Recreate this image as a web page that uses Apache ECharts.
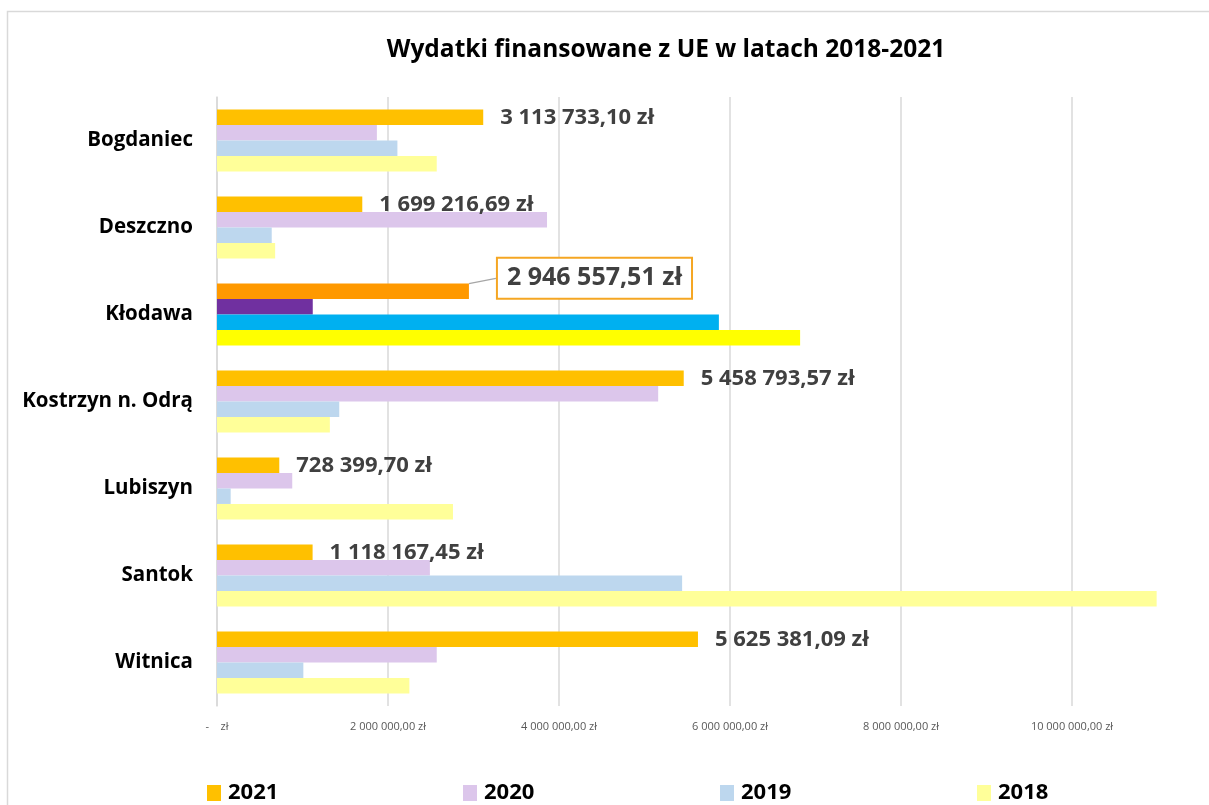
<!DOCTYPE html>
<html><head><meta charset="utf-8">
<script src="https://cdn.jsdelivr.net/npm/echarts@6/dist/echarts.min.js"></script>
<style>html,body{margin:0;padding:0;background:#fff}#c{width:1209px;height:805px}</style>
</head><body><div id="c"></div>
<script>
const categories = ['Bogdaniec','Deszczno','Kłodawa','Kostrzyn n. Odrą','Lubiszyn','Santok','Witnica'];
const years = ['2021','2020','2019','2018'];
const v2021 = [3113733.10, 1699216.69, 2946557.51, 5458793.57, 728399.70, 1118167.45, 5625381.09];
const v2020 = [1870000, 3860000, 1120000, 5160000, 880000, 2490000, 2570000];
const v2019 = [2110000, 640000, 5870000, 1430000, 160000, 5440000, 1010000];
const v2018 = [2570000, 680000, 6820000, 1320000, 2760000, 10990000, 2250000];
const highlightIndex = 2;
const baseColors = ['#FFC000','#DCC6EB','#BDD7EE','#FFFF99'];
const highlightColors = ['#FF9900','#7030A0','#00B0F0','#FFFF00'];
const FONT = 'Open Sans';

function pl(v, dec){
  const s = v.toFixed(dec);
  const parts = s.split('.');
  const int = parts[0].replace(/\B(?=(\d{3})+(?!\d))/g, ' ');
  return dec ? int + ',' + parts[1] : int;
}
const allValues = [v2021, v2020, v2019, v2018];

const series = allValues.map((vals, si) => ({
  name: years[si],
  type: 'bar',
  barGap: '0%',
  barCategoryGap: '29%',
  itemStyle: { color: baseColors[si] },
  data: vals.map((v, i) => {
    const d = { value: v };
    if (i === highlightIndex) {
      d.itemStyle = { color: highlightColors[si] };
      if (si === 0) {
        d.label = {
          show: true, fontSize: 25, color: '#404040', fontWeight: 'bold', fontFamily: FONT,
          borderColor: '#F5A623', borderWidth: 2, padding: [8, 9, 6, 9], backgroundColor: '#fff'
        };
        d.labelLine = { show: true, lineStyle: { color: '#A6A6A6', width: 1.2 } };
      }
    }
    return d;
  }),
  label: si === 0 ? {
    show: true, position: 'right', distance: 17, fontFamily: FONT, fontWeight: 'bold',
    fontSize: 22, color: '#404040',
    formatter: p => pl(p.value, 2) + ' zł'
  } : { show: false },
  labelLine: si === 0 ? { show: false } : undefined,
  labelLayout: si === 0 ? function (p) {
    if (p.dataIndex === highlightIndex) return { dx: 12, dy: -13 };
    return {};
  } : undefined
}));

const legendLefts = [202, 458, 715, 972];
const legends = years.map((y, i) => ({
  data: [y], left: legendLefts[i], top: 777, itemWidth: 14, itemHeight: 16, itemGap: 0,
  icon: 'rect',
  textStyle: { fontFamily: FONT, fontWeight: 'bold', fontSize: 22, color: '#000', padding: [0,0,0,2] }
}));

const chart = echarts.init(document.getElementById('c'), null, { renderer: 'canvas' });
chart.setOption({
  animation: false,
  backgroundColor: '#fff',
  graphic: [{ type: 'rect', shape: { x: 7.5, y: 11.5, width: 1400, height: 1000 },
    style: { fill: 'none', stroke: '#D9D9D9', lineWidth: 1.5 }, silent: true, z: -1 }],
  title: {
    text: 'Wydatki finansowane z UE w latach 2018-2021',
    left: 661, top: 33, textAlign: 'center',
    textStyle: { fontFamily: FONT, fontWeight: 'bold', fontSize: 24.5, color: '#000' }
  },
  legend: legends,
  grid: { left: 217, top: 97, width: 1026, height: 609, containLabel: false, outerBoundsMode: 'none' },
  xAxis: {
    type: 'value', min: 0, max: 12000000, interval: 2000000,
    axisLine: { show: false }, axisTick: { show: false },
    splitLine: { show: true, lineStyle: { color: '#D9D9D9', width: 1.5 } },
    axisLabel: {
      margin: 15, fontFamily: FONT, fontSize: 11, color: '#595959',
      formatter: v => v === 0 ? '-    zł' : (v >= 12000000 ? '' : pl(v, 2) + ' zł')
    }
  },
  yAxis: {
    type: 'category', data: categories, inverse: true,
    axisLine: { show: true, lineStyle: { color: '#D9D9D9', width: 1.5 } },
    axisTick: { show: false },
    axisLabel: { margin: 24, fontFamily: FONT, fontWeight: 'bold', fontSize: 20.5, color: '#000' }
  },
  series: series
});
</script>
</body></html>
